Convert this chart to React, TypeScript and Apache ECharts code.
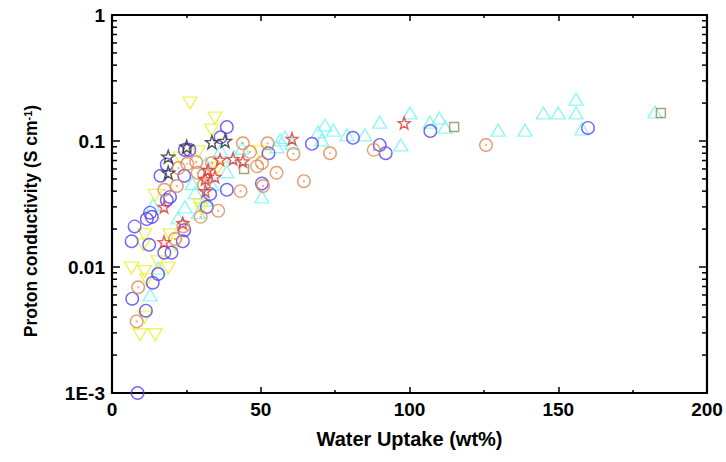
import React, { useEffect, useRef } from "react";
import * as echarts from "echarts";

const xMin = 0;
const xMax = 200;
const xInterval = 50;
const yMin = 0.001;
const yMax = 1;
const yTickLabels = ["1E-3", "0.01", "0.1", "1"];
const minorLogTicks = [
  0.002, 0.003, 0.004, 0.005, 0.006, 0.007, 0.008, 0.009,
  0.02, 0.03, 0.04, 0.05, 0.06, 0.07, 0.08, 0.09,
  0.2, 0.3, 0.4, 0.5, 0.6, 0.7, 0.8, 0.9,
];

const blueCircles = [
  [8.6, 0.001], [11.4, 0.0045], [6.8, 0.0056], [13.7, 0.0075], [15.5, 0.0088],
  [17.6, 0.013], [20, 0.013], [6.6, 0.016], [12.5, 0.015], [7.6, 0.021],
  [11.7, 0.024], [12.8, 0.027], [23.8, 0.016], [24.3, 0.0196], [31.9, 0.03],
  [18.4, 0.034], [16.3, 0.053], [19.5, 0.036], [24.3, 0.053], [24.5, 0.085],
  [38.6, 0.129], [36.5, 0.107], [38.6, 0.041], [50.4, 0.046], [18.4, 0.065],
  [52.6, 0.08], [67.2, 0.095], [81, 0.106], [90, 0.093], [92, 0.08],
  [107, 0.12], [160, 0.127], [33, 0.038], [13.4, 0.025], [26, 0.085],
];

const orangeCircles = [
  [8.8, 0.0069], [8.3, 0.0037], [21.2, 0.0167], [24, 0.021], [29.8, 0.025],
  [35.7, 0.028], [17.6, 0.041], [21.8, 0.044], [25.3, 0.066], [28.3, 0.068],
  [28.8, 0.056], [33.6, 0.067], [30.9, 0.045], [43.2, 0.04], [44, 0.096],
  [46.4, 0.082], [52.3, 0.096], [48.8, 0.063], [50.4, 0.067], [50.8, 0.044],
  [55.3, 0.056], [61, 0.079], [73.3, 0.08], [64.5, 0.048], [88, 0.085],
  [125.7, 0.093], [31, 0.054], [22.4, 0.061],
];

const cyanTriangles = [
  [12.8, 0.006], [15.5, 0.0098], [13.8, 0.031], [24.5, 0.03], [22.2, 0.0245],
  [29, 0.027], [31.4, 0.034], [50.4, 0.036], [28, 0.039], [31.5, 0.066],
  [36.5, 0.084], [38.6, 0.057], [41, 0.075], [43.7, 0.088], [56.5, 0.102],
  [58.2, 0.107], [55.4, 0.09], [60.5, 0.096], [69.3, 0.118], [71.6, 0.134],
  [74.4, 0.122], [70.5, 0.102], [79, 0.112], [85, 0.112], [90, 0.141],
  [97.1, 0.093], [100.2, 0.167], [106.9, 0.141], [110, 0.152], [112, 0.129],
  [129.8, 0.122], [138.8, 0.122], [145, 0.167], [150, 0.167], [156, 0.167],
  [156, 0.215], [158, 0.125], [182.5, 0.17], [27, 0.046], [33.5, 0.045],
];

const yellowTriangles = [
  [6.6, 0.0098], [11, 0.0092], [11.7, 0.0079], [15.5, 0.011], [18.9, 0.0098],
  [9.4, 0.0029], [14.5, 0.0029], [11, 0.018], [10.5, 0.015], [11, 0.004],
  [19.5, 0.018], [21.2, 0.015], [29.6, 0.031], [26.2, 0.2], [34.6, 0.152],
  [33.5, 0.122], [22.9, 0.073], [29, 0.082], [35.6, 0.061], [14.5, 0.037],
  [30, 0.029], [49.7, 0.082],
];

const redStars = [
  [17.5, 0.03], [23.8, 0.0223], [17.5, 0.0158], [31.3, 0.05], [34.6, 0.052],
  [31.4, 0.04], [32.3, 0.059], [36.3, 0.071], [40.7, 0.072], [44, 0.069],
  [60.5, 0.104], [98.2, 0.139],
];

const blackStars = [
  [18.9, 0.075], [18.9, 0.056], [25.1, 0.09], [33.6, 0.098], [38, 0.1],
];

const greenSquares = [
  [44.4, 0.06], [115, 0.129], [184.5, 0.167],
];

const ringDot =
  "path://M10,0A10,10 0 1,1 9.99,0Z M10,9.4A0.6,0.6 0 1,1 9.99,9.4Z";
const invTriangle = "path://M0,0L20,0L10,17.32Z";
const star =
  "path://M10,0L12.35,6.76L19.51,6.91L13.80,11.24L15.88,18.09L10,14L4.12,18.09L6.20,11.24L0.49,6.91L7.65,6.76Z";

const font = "'Liberation Sans', Arial, sans-serif";

export default function App() {
  const ref = useRef<HTMLDivElement>(null);
  useEffect(() => {
    if (!ref.current) return;
    const chart = echarts.init(ref.current, null, { renderer: "svg" });
    const hollow = (c: string, w = 1.4) => ({
      color: "rgba(0,0,0,0)",
      borderColor: c,
      borderWidth: w,
    });
    const yLabel = (v: number) => {
      const i = Math.round(Math.log10(v) - Math.log10(yMin));
      return yTickLabels[i] ?? "";
    };
    const baseX = {
      type: "value" as const,
      min: xMin,
      max: xMax,
      interval: xInterval,
      splitLine: { show: false },
      axisLine: { show: true, onZero: false, lineStyle: { color: "#000", width: 2.2 } },
      axisTick: { show: true, inside: true, length: 6, lineStyle: { color: "#000", width: 1.5 } },
      minorTick: { show: true, splitNumber: 2, length: 3, lineStyle: { color: "#000", width: 1.5 } },
    };
    const baseY = {
      type: "log" as const,
      logBase: 10,
      min: yMin,
      max: yMax,
      splitLine: { show: false },
      axisLine: { show: true, onZero: false, lineStyle: { color: "#000", width: 2.2 } },
      axisTick: { show: true, inside: true, length: 8, lineStyle: { color: "#000", width: 1.5 } },
    };
    chart.setOption({
      animation: false,
      backgroundColor: "#fff",
      grid: { left: 112, right: 19, top: 15, bottom: 69 },
      xAxis: [
        {
          ...baseX,
          position: "bottom",
          name: "Water Uptake (wt%)",
          nameLocation: "middle",
          nameGap: 36,
          nameTextStyle: { fontFamily: font, fontWeight: "bold", fontSize: 20, color: "#000" },
          axisLabel: { fontFamily: font, fontWeight: "bold", fontSize: 19, color: "#000", margin: 7 },
        },
        { ...baseX, position: "top", axisLabel: { show: false } },
      ],
      yAxis: [
        {
          ...baseY,
          position: "left",
          name: "Proton conductivity (S cm{sup|-1})",
          nameLocation: "middle",
          nameGap: 72,
          nameRotate: 90,
          nameTextStyle: {
            fontFamily: font,
            fontWeight: "bold",
            fontSize: 17.5,
            color: "#000",
            padding: [0, 34, 0, 0],
            rich: {
              sup: { fontFamily: font, fontWeight: "bold", fontSize: 11, verticalAlign: "top", color: "#000" },
            },
          },
          axisLabel: {
            fontFamily: font,
            fontWeight: "bold",
            fontSize: 19,
            color: "#000",
            margin: 7,
            formatter: yLabel,
          },
        },
        { ...baseY, position: "right", axisLabel: { show: false } },
      ],
      series: [
        {
          type: "scatter",
          data: cyanTriangles,
          symbol: "triangle",
          symbolSize: [14, 12],
          itemStyle: hollow("#78f4f4"),
        },
        {
          type: "scatter",
          data: yellowTriangles,
          symbol: invTriangle,
          symbolSize: [14, 12],
          itemStyle: hollow("#eeec3a"),
        },
        {
          type: "scatter",
          data: blueCircles,
          symbol: "circle",
          symbolSize: 12.5,
          itemStyle: hollow("#5040f2"),
        },
        {
          type: "scatter",
          data: orangeCircles,
          symbol: ringDot,
          symbolSize: 12.5,
          itemStyle: hollow("#e2884e"),
        },
        {
          type: "scatter",
          data: greenSquares,
          symbol: "rect",
          symbolSize: 9,
          itemStyle: hollow("#8e8e5a", 1.5),
        },
        {
          type: "scatter",
          data: redStars,
          symbol: star,
          symbolSize: 12,
          itemStyle: hollow("#e03434", 1.4),
        },
        {
          type: "scatter",
          data: blackStars,
          symbol: star,
          symbolSize: 13,
          itemStyle: hollow("#2a2a2a", 1.4),
        },
        {
          type: "custom",
          silent: true,
          clip: false,
          z: 10,
          data: minorLogTicks.map((v) => [xMin, v]),
          renderItem: (_p: any, api: any) => {
            const v = api.value(1);
            const l = api.coord([xMin, v]);
            const r = api.coord([xMax, v]);
            const st = { stroke: "#000", lineWidth: 1.5 };
            return {
              type: "group",
              children: [
                { type: "line", shape: { x1: l[0], y1: l[1], x2: l[0] + 5, y2: l[1] }, style: st },
                { type: "line", shape: { x1: r[0], y1: r[1], x2: r[0] - 5, y2: r[1] }, style: st },
              ],
            };
          },
        },
      ],
    });
    return () => chart.dispose();
  }, []);
  return <div ref={ref} style={{ width: 726, height: 462, position: "absolute", left: 0, top: 0 }} />;
}
